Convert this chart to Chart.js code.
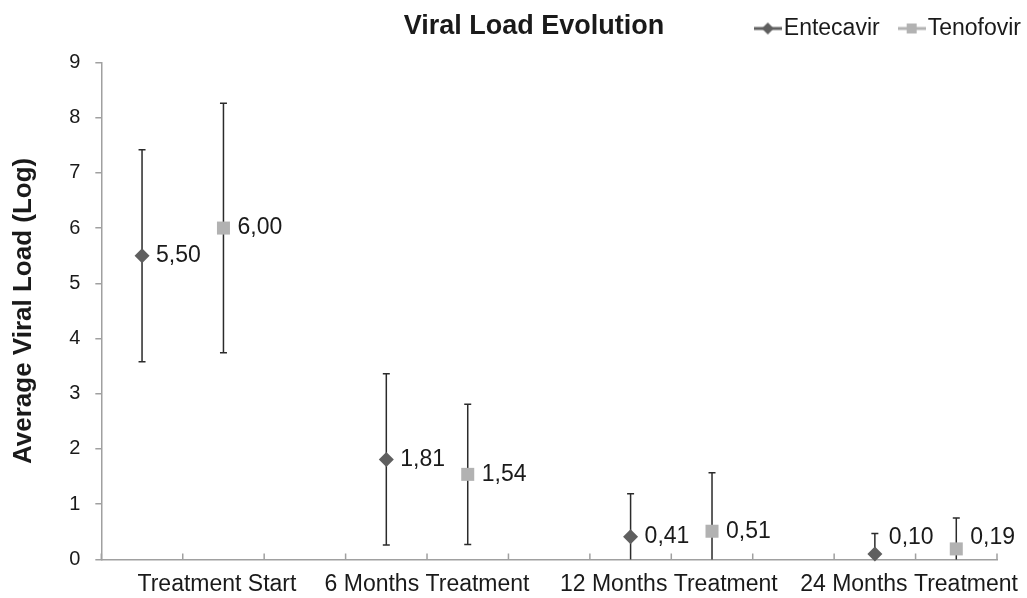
<!DOCTYPE html>
<html>
<head>
<meta charset="utf-8">
<title>Viral Load Evolution</title>
<script src="https://cdn.jsdelivr.net/npm/chart.js@4.4.1/dist/chart.umd.min.js"></script>
<style>
  html, body { margin: 0; padding: 0; background: #fff; }
  #wrap { width: 1027px; height: 598px; position: relative; }
</style>
</head>
<body>
<div id="wrap"><canvas id="chart" width="1027" height="598"></canvas></div>
<script>
// ---------- data ----------
const groups = ['Treatment Start', '6 Months Treatment', '12 Months Treatment', '24 Months Treatment'];
const entecavir = [5.50, 1.81, 0.41, 0.10];
const entecavirErr = [1.92, 1.55, 0.78, 0.37];
const tenofovir = [6.00, 1.54, 0.51, 0.19];
const tenofovirErr = [2.26, 1.27, 1.06, 0.56];
const labelAt = [1.42, 4, 6.97, 9.92];   // where each group name sits on the x axis

const FONT = "'Liberation Sans', Arial, sans-serif";
const TEXT = '#1a1a1a';
const AXIS = '#a0a0a0';
const DARK = '#5f5f5f';
const LIGHT = '#b2b2b2';
const LEGEND_PAD = 27.5;

// ---------- legend icons (line + marker) ----------
function makeIcon(shape, color){
  const c = document.createElement('canvas');
  c.width = 28; c.height = 16;
  const g = c.getContext('2d');
  g.strokeStyle = color; g.lineWidth = 3;
  g.beginPath(); g.moveTo(0, 8); g.lineTo(28, 8); g.stroke();
  g.fillStyle = color;
  g.beginPath();
  if(shape === 'diamond'){ g.moveTo(14, 2); g.lineTo(20, 8); g.lineTo(14, 14); g.lineTo(8, 8); g.closePath(); }
  else { g.rect(9, 3, 10, 10); }
  g.fill();
  return c;
}
const icons = [makeIcon('diamond', DARK), makeIcon('square', LIGHT)];

// ---------- plugins ----------
const errorBars = {
  id: 'errorBars',
  beforeDatasetsDraw(chart){
    const ctx = chart.ctx, y = chart.scales.y, area = chart.chartArea;
    ctx.save();
    ctx.strokeStyle = '#2b2b2b';
    ctx.lineWidth = 1.5;
    chart.data.datasets.forEach((ds, di)=>{
      chart.getDatasetMeta(di).data.forEach((pt, i)=>{
        const v = ds.data[i].y, e = ds.errors[i];
        const top = y.getPixelForValue(v + e);
        const lowV = v - e;
        const bot = lowV < y.min ? area.bottom : y.getPixelForValue(lowV);
        ctx.beginPath();
        ctx.moveTo(pt.x, top); ctx.lineTo(pt.x, bot);
        ctx.moveTo(pt.x - 3.5, top); ctx.lineTo(pt.x + 3.5, top);
        if(lowV >= y.min){ ctx.moveTo(pt.x - 3.5, bot); ctx.lineTo(pt.x + 3.5, bot); }
        ctx.stroke();
      });
    });
    ctx.restore();
  }
};

// x tick marks point up into the plot, as in the original
const innerTicks = {
  id: 'innerTicks',
  beforeDatasetsDraw(chart){
    const ctx = chart.ctx, x = chart.scales.x, bottom = chart.chartArea.bottom;
    ctx.save();
    ctx.strokeStyle = AXIS;
    ctx.lineWidth = 1.5;
    ctx.beginPath();
    x.ticks.forEach(t=>{
      const px = x.getPixelForValue(t.value);
      ctx.moveTo(px, bottom); ctx.lineTo(px, bottom - 6);
    });
    ctx.stroke();
    ctx.restore();
  }
};

const valueLabels = {
  id: 'valueLabels',
  afterDatasetsDraw(chart){
    const ctx = chart.ctx, area = chart.chartArea;
    ctx.save();
    ctx.font = '23px ' + FONT;
    ctx.fillStyle = TEXT;
    ctx.textAlign = 'left';
    ctx.textBaseline = 'middle';
    chart.data.datasets.forEach((ds, di)=>{
      chart.getDatasetMeta(di).data.forEach((pt, i)=>{
        const txt = ds.data[i].y.toFixed(2).replace('.', ',');
        const ty = Math.min(pt.y, area.bottom - 22);
        ctx.fillText(txt, pt.x + 14, ty);
      });
    });
    ctx.restore();
  }
};

// put title and legend on the same row, like the original:
// the legend takes no layout height and is moved up beside the title
const headerRow = {
  id: 'headerRow',
  afterInit(chart){
    const l = chart.legend;
    const fit = l.fit.bind(l);
    l.fit = function(){ fit(); this._fullHeight = this.height; this.height = 0; };
  },
  afterLayout(chart){
    const t = chart.titleBlock, l = chart.legend;
    t.left = 41; t.right = chart.width;
    l.top = 27 - LEGEND_PAD - 10;
    l.bottom = l.top + l._fullHeight + 40;
    l.left = 0;
    l.right = 1022 + LEGEND_PAD - 1;
  }
};

// ---------- chart ----------
const ctx = document.getElementById('chart').getContext('2d');
new Chart(ctx, {
  type: 'scatter',
  data: {
    datasets: [
      {
        label: 'Entecavir',
        data: entecavir.map((v, i)=>({ x: i * 3 + 0.5, y: v })),
        errors: entecavirErr,
        pointStyle: 'rectRot',
        pointRadius: 7.5,
        pointHoverRadius: 7.5,
        backgroundColor: DARK,
        borderColor: DARK,
        borderWidth: 0,
        clip: false
      },
      {
        label: 'Tenofovir',
        data: tenofovir.map((v, i)=>({ x: i * 3 + 1.5, y: v })),
        errors: tenofovirErr,
        pointStyle: 'rect',
        pointRadius: 9.2,
        pointHoverRadius: 9.2,
        backgroundColor: LIGHT,
        borderColor: LIGHT,
        borderWidth: 0,
        clip: false
      }
    ]
  },
  options: {
    responsive: false,
    animation: false,
    events: [],
    layout: { padding: { left: 0, right: 30, top: 0, bottom: -3 } },
    plugins: {
      title: {
        display: true,
        text: 'Viral Load Evolution',
        color: TEXT,
        font: { family: FONT, size: 27, weight: 'bold' },
        padding: { top: 10, bottom: 20 }
      },
      legend: {
        position: 'top',
        align: 'end',
        labels: {
          usePointStyle: true,
          pointStyleWidth: 9,
          padding: LEGEND_PAD,
          color: TEXT,
          font: { family: FONT, size: 23 },
          generateLabels: (chart)=>chart.data.datasets.map((d, i)=>({
            text: d.label, pointStyle: icons[i], datasetIndex: i, hidden: false,
            lineWidth: 0, fillStyle: 'transparent', strokeStyle: 'transparent', fontColor: TEXT
          }))
        }
      },
      tooltip: { enabled: false }
    },
    scales: {
      x: {
        type: 'linear',
        min: 0, max: 11,
        border: { color: AXIS, width: 1.5 },
        grid: { drawOnChartArea: false, drawTicks: false },
        ticks: { stepSize: 1, display: false }
      },
      x2: {
        type: 'linear',
        position: 'bottom',
        min: 0, max: 11,
        border: { display: false },
        grid: { display: false },
        afterBuildTicks: (s)=>{ s.ticks = labelAt.map(v=>({ value: v })); },
        ticks: {
          autoSkip: false, maxRotation: 0, minRotation: 0, padding: 3,
          color: TEXT,
          font: { family: FONT, size: 23 },
          callback: (v, i)=>groups[i]
        }
      },
      y: {
        min: 0, max: 9,
        border: { color: AXIS, width: 1.5 },
        grid: { drawOnChartArea: false, color: AXIS, tickLength: 6, lineWidth: 1.5 },
        ticks: {
          stepSize: 1, padding: 15, color: TEXT,
          font: { family: FONT, size: 20 }
        },
        title: {
          display: true,
          text: 'Average Viral Load (Log)',
          color: TEXT,
          font: { family: FONT, size: 26, weight: 'bold' },
          padding: { top: 8, bottom: 15 }
        }
      }
    }
  },
  plugins: [innerTicks, errorBars, valueLabels, headerRow]
});
</script>
</body>
</html>
